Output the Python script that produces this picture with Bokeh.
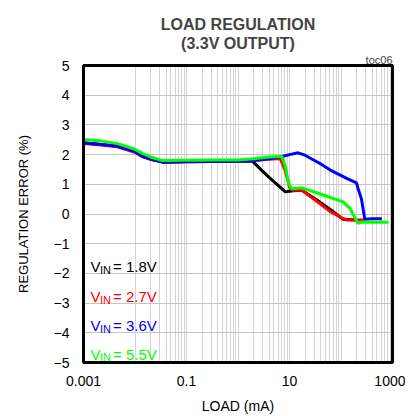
from bokeh.plotting import figure
from bokeh.models import (Range1d, FixedTicker, Label, CustomJSTickFormatter,
                          Title, LinearAxis, LogAxis)
from bokeh.embed import file_html
from bokeh.resources import INLINE

# ---- data ----
load_18 = [0.001, 0.002, 0.0046, 0.01, 0.0138, 0.02, 0.036, 0.1, 0.3, 1.0, 1.9, 3.6, 8.2, 12, 17.4, 34, 62, 110, 200]
reg_18 = [2.40, 2.35, 2.28, 2.10, 1.95, 1.85, 1.75, 1.77, 1.78, 1.78, 1.78, 1.31, 0.75, 0.78, 0.80, 0.47, 0.15, -0.18, -0.20]

load_27 = [0.001, 0.002, 0.0046, 0.01, 0.0138, 0.02, 0.036, 0.1, 0.3, 1.0, 2.0, 4.0, 6.6, 8.2, 10.2, 12, 17.4, 34, 62, 110, 129, 295]
reg_27 = [2.37, 2.33, 2.26, 2.08, 1.93, 1.84, 1.74, 1.76, 1.77, 1.78, 1.80, 1.84, 1.87, 1.48, 0.86, 0.80, 0.80, 0.43, 0.08, -0.15, -0.20, -0.20]

load_36 = [0.001, 0.002, 0.0046, 0.01, 0.0138, 0.02, 0.036, 0.1, 0.3, 1.0, 2.0, 4.0, 6.6, 10, 14.7, 20, 39, 62, 129, 200, 215, 250, 290, 400, 620]
reg_36 = [2.39, 2.35, 2.28, 2.10, 1.95, 1.85, 1.74, 1.76, 1.77, 1.78, 1.80, 1.86, 1.92, 2.00, 2.06, 1.98, 1.70, 1.48, 1.20, 1.05, 0.85, 0.50, -0.18, -0.16, -0.16]

load_55 = [0.001, 0.002, 0.0046, 0.01, 0.0138, 0.02, 0.034, 0.1, 0.3, 1.0, 2.0, 4.0, 7.1, 8.2, 9.6, 11, 17.4, 45, 110, 148, 186, 214, 260, 836]
reg_55 = [2.51, 2.47, 2.37, 2.18, 2.04, 1.92, 1.80, 1.81, 1.82, 1.82, 1.86, 1.92, 1.94, 1.64, 1.03, 0.85, 0.88, 0.64, 0.41, 0.20, -0.12, -0.31, -0.27, -0.28]

series_names = ["1.8V", "2.7V", "3.6V", "5.5V"]
series_colors = ["#000000", "#ff0000", "#0000ff", "#00ff00"]
x_tick_labels = [0.001, 0.1, 10, 1000]
y_ticks = [-5, -4, -3, -2, -1, 0, 1, 2, 3, 4, 5]

FONT = "Liberation Sans"

p = figure(width=405, height=416, x_axis_type="log",
           x_range=Range1d(0.001, 1000), y_range=Range1d(-5, 5),
           output_backend="svg", toolbar_location=None, title_location=None,
           min_border_left=83, min_border_right=13,
           min_border_top=65, min_border_bottom=54)
p.background_fill_color = "white"
p.border_fill_color = "white"
p.outline_line_color = "black"
p.outline_line_width = 3

# grids
grid_ticks = []
for e in range(-2, 3):
    for m in range(1, 10):
        grid_ticks.append(m * 10 ** e)
grid_ticks.append(1000)
p.xgrid.ticker = FixedTicker(ticks=grid_ticks)
p.xgrid.grid_line_color = "#d4d4d4"
p.ygrid.ticker = FixedTicker(ticks=y_ticks)
p.ygrid.grid_line_color = "#c4c4c4"

def style_axis(ax):
    ax.axis_line_color = "black"
    ax.axis_line_width = 3
    ax.major_tick_line_color = None
    ax.minor_tick_line_color = None
    ax.major_tick_out = 0
    ax.major_tick_in = 0
    ax.minor_tick_out = 0
    ax.minor_tick_in = 0
    ax.major_label_text_font = FONT
    ax.major_label_text_font_size = "14px"
    ax.major_label_text_color = "black"
    ax.axis_label_text_font = FONT
    ax.axis_label_text_font_size = "14px"
    ax.axis_label_text_font_style = "normal"
    ax.axis_label_text_color = "black"

xa = p.xaxis[0]
ya = p.yaxis[0]
style_axis(xa)
style_axis(ya)
xa.ticker = FixedTicker(ticks=x_tick_labels)
xa.formatter = CustomJSTickFormatter(code="return String(Number(tick.toPrecision(6)));")
xa.major_label_standoff = 13
xa.axis_label = "LOAD (mA)"
xa.axis_label_standoff = 9
ya.ticker = FixedTicker(ticks=y_ticks)
ya.major_label_standoff = 14
ya.axis_label = "REGULATION ERROR (%)"
ya.axis_label_text_font_size = "13px"
ya.axis_label_standoff = 20

# frame lines on right and top
ra = LinearAxis(ticker=FixedTicker(ticks=[]))
style_axis(ra)
ra.major_label_standoff = 0
p.add_layout(ra, "right")
ta = LogAxis(ticker=FixedTicker(ticks=[]))
style_axis(ta)
ta.major_label_standoff = 0
p.add_layout(ta, "above")

# titles, stacked outward from the frame
p.add_layout(Title(text="toc06", align="right", text_font=FONT, text_font_size="11px",
                   text_font_style="normal", standoff=0), "above")
p.add_layout(Title(text="(3.3V OUTPUT)", align="center", text_font=FONT,
                   text_font_size="16px", text_font_style="bold", standoff=0), "above")
p.add_layout(Title(text="LOAD REGULATION", align="center", text_font=FONT,
                   text_font_size="16px", text_font_style="bold", standoff=0), "above")

# lines
for xs, ys, c in zip([load_18, load_27, load_36, load_55],
                     [reg_18, reg_27, reg_36, reg_55], series_colors):
    p.line(xs, ys, line_color=c, line_width=3)

def add_label(text, x, y, size, color="black"):
    p.add_layout(Label(x=x, y=y, x_units="screen", y_units="screen", text=text,
                       text_font=FONT, text_font_size=size, text_color=color,
                       text_align="left", text_baseline="alphabetic"))

# legend texts (screen coords relative to the frame)
base_y = [96, 66, 37, 8.5]
for name, col, by in zip(series_names, series_colors, base_y):
    add_label("V", 7, by, "15px", col)
    add_label("IN", 16.5, by - 3.3, "11px", col)
    add_label("= " + name, 29.5, by, "15px", col)

open("out.html", "w").write(file_html(p, INLINE))
